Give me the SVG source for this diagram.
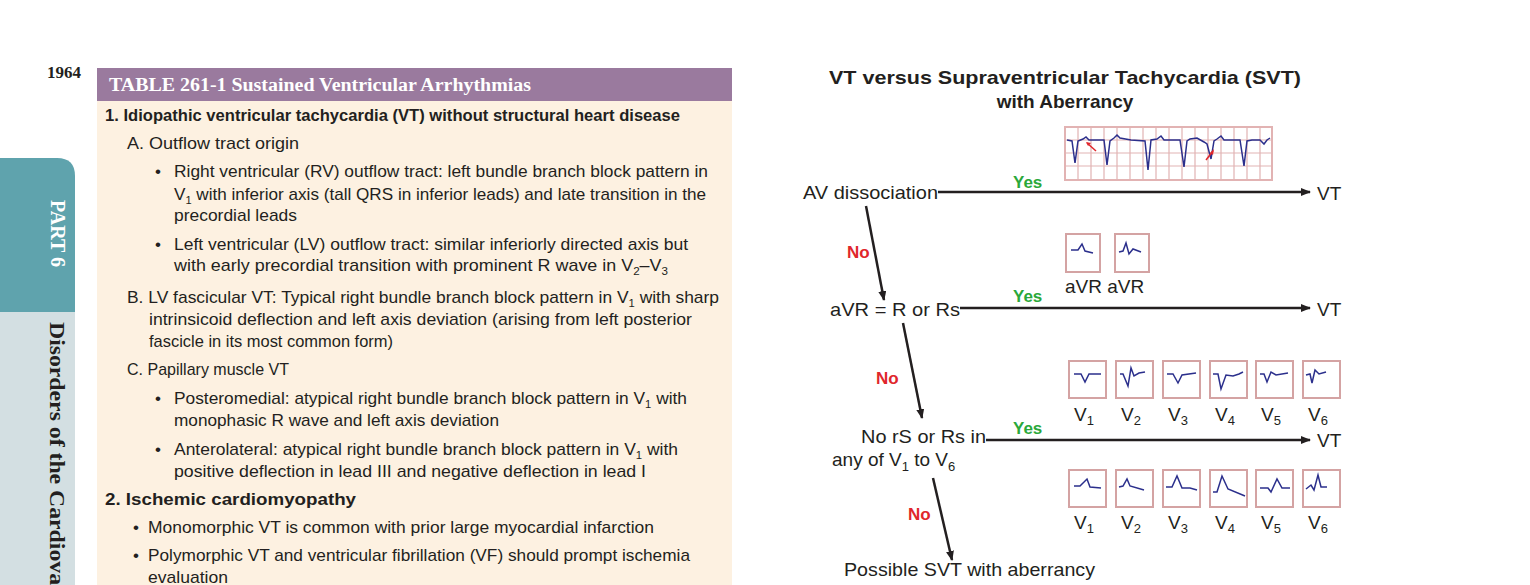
<svg xmlns="http://www.w3.org/2000/svg" width="1530" height="585" viewBox="0 0 1530 585">
<style>
.t{font-family:"Liberation Sans",Arial,sans-serif;font-size:17px;fill:#231f20}
.tb{font-weight:bold}
.d{font-family:"Liberation Sans",Arial,sans-serif;font-size:19px;fill:#231f20}
.y{font-family:"Liberation Sans",Arial,sans-serif;font-size:17px;font-weight:bold;fill:#2aa83a}
.n{font-family:"Liberation Sans",Arial,sans-serif;font-size:17px;font-weight:bold;fill:#e0262b}
.bx{fill:#fff;stroke:#d4a3a3;stroke-width:2}
.tr{fill:none;stroke:#2b2f8c;stroke-width:1.5}
.ln{stroke:#231f20;stroke-width:2.5;fill:none}
.grid{stroke:#e2b3b3;stroke-width:1.2}
</style>
<defs>
<marker id="ah" markerWidth="10" markerHeight="8" refX="9" refY="4" orient="auto" markerUnits="userSpaceOnUse"><path d="M0,0L10,4L0,8Z" fill="#231f20"/></marker>
</defs>
<rect width="1530" height="585" fill="#fff"/>
<g id="sidebar">
<path d="M0,158H57Q75,158 75,176V312H0Z" fill="#5fa3ad"/>
<rect x="0" y="312" width="75" height="273" fill="#d3dfe2"/>
<text x="47" y="78" font-family="Liberation Serif,serif" font-size="17" font-weight="bold" fill="#231f20">1964</text>
<text transform="translate(51,200) rotate(90)" font-family="Liberation Serif,serif" font-size="20" font-weight="bold" fill="#fff">PART 6</text>
<text transform="translate(50,322) rotate(90)" font-family="Liberation Serif,serif" font-size="22" font-weight="bold" fill="#231f20" textLength="263" lengthAdjust="spacingAndGlyphs">Disorders of the Cardiova</text>
</g>
<g id="table">
<rect x="97" y="101" width="635" height="484" fill="#fdf1e1"/>
<rect x="97" y="68" width="635" height="33" fill="#9a7a9e"/>
<text x="109" y="91" font-family="Liberation Serif,serif" font-size="18" font-weight="bold" fill="#fff" textLength="422" lengthAdjust="spacingAndGlyphs">TABLE 261-1  Sustained Ventricular Arrhythmias</text>
<text class="t tb" x="105" y="121" textLength="575" lengthAdjust="spacingAndGlyphs">1.  Idiopathic ventricular tachycardia (VT) without structural heart disease</text>
<text class="t" x="127" y="149" textLength="172" lengthAdjust="spacingAndGlyphs">A.  Outflow tract origin</text>
<text class="t" x="155" y="177">•</text>
<text class="t" x="174" y="177" textLength="534" lengthAdjust="spacingAndGlyphs">Right ventricular (RV) outflow tract: left bundle branch block pattern in</text>
<text class="t" x="174" y="200" textLength="532" lengthAdjust="spacingAndGlyphs">V<tspan font-size="11" dy="4">1</tspan><tspan dy="-4"> with inferior axis (tall QRS in inferior leads) and late transition in the</tspan></text>
<text class="t" x="174" y="221" textLength="123" lengthAdjust="spacingAndGlyphs">precordial leads</text>
<text class="t" x="155" y="250">•</text>
<text class="t" x="174" y="250" textLength="514" lengthAdjust="spacingAndGlyphs">Left ventricular (LV) outflow tract: similar inferiorly directed axis but</text>
<text class="t" x="174" y="271" textLength="494" lengthAdjust="spacingAndGlyphs">with early precordial transition with prominent R wave in V<tspan font-size="11" dy="4">2</tspan><tspan dy="-4">–V</tspan><tspan font-size="11" dy="4">3</tspan></text>
<text class="t" x="127" y="303" textLength="592" lengthAdjust="spacingAndGlyphs">B.  LV fascicular VT: Typical right bundle branch block pattern in V<tspan font-size="11" dy="4">1</tspan><tspan dy="-4"> with sharp</tspan></text>
<text class="t" x="149" y="325" textLength="543" lengthAdjust="spacingAndGlyphs">intrinsicoid deflection and left axis deviation (arising from left posterior</text>
<text class="t" x="149" y="347" textLength="244" lengthAdjust="spacingAndGlyphs">fascicle in its most common form)</text>
<text class="t" x="127" y="375" textLength="162" lengthAdjust="spacingAndGlyphs">C.  Papillary muscle VT</text>
<text class="t" x="155" y="404">•</text>
<text class="t" x="174" y="404" textLength="513" lengthAdjust="spacingAndGlyphs">Posteromedial: atypical right bundle branch block pattern in V<tspan font-size="11" dy="4">1</tspan><tspan dy="-4"> with</tspan></text>
<text class="t" x="174" y="426" textLength="325" lengthAdjust="spacingAndGlyphs">monophasic R wave and left axis deviation</text>
<text class="t" x="155" y="455">•</text>
<text class="t" x="174" y="455" textLength="504" lengthAdjust="spacingAndGlyphs">Anterolateral: atypical right bundle branch block pattern in V<tspan font-size="11" dy="4">1</tspan><tspan dy="-4"> with</tspan></text>
<text class="t" x="174" y="477" textLength="472" lengthAdjust="spacingAndGlyphs">positive deflection in lead III and negative deflection in lead I</text>
<text class="t tb" x="105" y="505" textLength="251" lengthAdjust="spacingAndGlyphs">2.  Ischemic cardiomyopathy</text>
<text class="t" x="133" y="533">•</text>
<text class="t" x="148" y="533" textLength="506" lengthAdjust="spacingAndGlyphs">Monomorphic VT is common with prior large myocardial infarction</text>
<text class="t" x="133" y="561">•</text>
<text class="t" x="148" y="561" textLength="542" lengthAdjust="spacingAndGlyphs">Polymorphic VT and ventricular fibrillation (VF) should prompt ischemia</text>
<text class="t" x="148" y="583" textLength="80" lengthAdjust="spacingAndGlyphs">evaluation</text>
</g>
<g id="title">
<text class="d" x="1065" y="84" font-weight="bold" text-anchor="middle" font-size="20" textLength="472" lengthAdjust="spacingAndGlyphs">VT versus Supraventricular Tachycardia (SVT)</text>
<text class="d" x="1065" y="108" font-weight="bold" text-anchor="middle" font-size="20">with Aberrancy</text>
</g>
<g id="connectors">
<line class="ln" x1="938" y1="192" x2="1310" y2="192" marker-end="url(#ah)"/>
<line class="ln" x1="960" y1="308" x2="1310" y2="308" marker-end="url(#ah)"/>
<line class="ln" x1="986" y1="440" x2="1310" y2="440" marker-end="url(#ah)"/>
<line class="ln" x1="866" y1="206" x2="884" y2="300" marker-end="url(#ah)"/>
<line class="ln" x1="903" y1="323" x2="922" y2="418" marker-end="url(#ah)"/>
<line class="ln" x1="933" y1="478" x2="952" y2="560" marker-end="url(#ah)"/>
<text class="y" x="1013" y="188">Yes</text>
<text class="y" x="1013" y="302">Yes</text>
<text class="y" x="1013" y="434">Yes</text>
<text class="n" x="847" y="258">No</text>
<text class="n" x="876" y="384">No</text>
<text class="n" x="908" y="520">No</text>
</g>
<g id="n-av"><text class="d" x="803" y="199" textLength="135" lengthAdjust="spacingAndGlyphs">AV dissociation</text><text class="d" x="1317" y="200">VT</text></g>
<g id="n-avr"><text class="d" x="830" y="316" textLength="130" lengthAdjust="spacingAndGlyphs">aVR = R or Rs</text><text class="d" x="1317" y="316">VT</text></g>
<g id="n-rs"><text class="d" x="861" y="443" textLength="125" lengthAdjust="spacingAndGlyphs">No rS or Rs in</text><text class="d" x="832" y="466">any of V<tspan font-size="13" dy="5">1</tspan><tspan dy="-5"> to V</tspan><tspan font-size="13" dy="5">6</tspan></text><text class="d" x="1317" y="447">VT</text></g>
<g id="n-svt"><text class="d" x="844" y="576" textLength="251" lengthAdjust="spacingAndGlyphs">Possible SVT with aberrancy</text></g>
<g id="ecg-strip">
<rect x="1065" y="127" width="207" height="53" fill="#fff" stroke="#e2b3b3" stroke-width="2"/>
<path class="grid" d="M1078,127V180M1091,127V180M1104,127V180M1117,127V180M1130,127V180M1143,127V180M1156,127V180M1169,127V180M1182,127V180M1195,127V180M1208,127V180M1221,127V180M1234,127V180M1247,127V180M1260,127V180M1065,140H1272M1065,153H1272M1065,166H1272"/>
<path class="tr" d="M1067,140L1072,141L1075,163L1078,141L1083,139L1086,137L1089,140L1104,140L1107,165L1110,141L1114,138L1117,135L1120,138L1131,140L1145,141L1148,170L1151,140L1157,139L1161,136L1164,140L1180,140L1184,167L1187,141L1190,139L1197,138L1204,142L1207,144L1211,159L1214,141L1217,139L1221,136L1224,140L1240,140L1244,166L1247,141L1252,140L1260,140L1264,144L1267,140L1270,138"/>
<path d="M1096,151L1087,143" stroke="#e0262b" stroke-width="1.5"/><path d="M1086,142L1091,143L1088,146Z" fill="#e0262b"/>
<path d="M1206,160L1213,151" stroke="#e0262b" stroke-width="1.5"/><path d="M1214,149L1213,155L1210,153Z" fill="#e0262b"/>
</g>
<g id="avr-boxes">
<rect class="bx" x="1066" y="234" width="34" height="38"/>
<path class="tr" d="M1071,250L1078,250L1082,244L1085,251L1093,253"/>
<rect class="bx" x="1115" y="234" width="34" height="38"/>
<path class="tr" d="M1119,252L1123,251L1126,243L1129,254L1133,249L1141,252"/>
<text class="d" x="1065" y="293">aVR aVR</text>
</g>
<g id="v-row1">
<rect class="bx" x="1069" y="361" width="37" height="37"/><path class="tr" d="M1074,374L1081,374L1085,382L1089,374L1101,374"/>
<rect class="bx" x="1116" y="361" width="37" height="37"/><path class="tr" d="M1120,374L1123,374L1128,386L1131,368L1134,376L1139,373L1145,372"/>
<rect class="bx" x="1163" y="361" width="37" height="37"/><path class="tr" d="M1167,374L1173,374L1178,383L1182,375L1196,373"/>
<rect class="bx" x="1210" y="361" width="37" height="37"/><path class="tr" d="M1213,374L1218,374L1221,389L1226,375L1233,376L1239,374L1243,372"/>
<rect class="bx" x="1256" y="361" width="37" height="37"/><path class="tr" d="M1260,374L1264,374L1267,382L1271,372L1276,375L1288,373"/>
<rect class="bx" x="1303" y="361" width="37" height="37"/><path class="tr" d="M1306,375L1310,374L1312,383L1315,370L1319,374L1326,372"/>
<text class="d" x="1074" y="421">V<tspan font-size="13" dy="4">1</tspan></text><text class="d" x="1121" y="421">V<tspan font-size="13" dy="4">2</tspan></text><text class="d" x="1168" y="421">V<tspan font-size="13" dy="4">3</tspan></text><text class="d" x="1215" y="421">V<tspan font-size="13" dy="4">4</tspan></text><text class="d" x="1261" y="421">V<tspan font-size="13" dy="4">5</tspan></text><text class="d" x="1308" y="421">V<tspan font-size="13" dy="4">6</tspan></text>
</g>
<g id="v-row2">
<rect class="bx" x="1069" y="470" width="37" height="37"/><path class="tr" d="M1074,486L1080,486L1087,479L1090,487L1101,488"/>
<rect class="bx" x="1116" y="470" width="37" height="37"/><path class="tr" d="M1119,487L1123,486L1127,479L1130,486L1144,490"/>
<rect class="bx" x="1163" y="470" width="37" height="37"/><path class="tr" d="M1166,487L1172,487L1177,476L1182,488L1190,488L1197,490"/>
<rect class="bx" x="1210" y="470" width="37" height="37"/><path class="tr" d="M1213,492L1217,492L1222,476L1228,489L1245,496"/>
<rect class="bx" x="1256" y="470" width="37" height="37"/><path class="tr" d="M1260,488L1268,488L1271,492L1277,479L1282,488L1290,488"/>
<rect class="bx" x="1303" y="470" width="37" height="37"/><path class="tr" d="M1306,489L1311,485L1314,490L1318,475L1321,487L1327,487"/>
<text class="d" x="1074" y="529">V<tspan font-size="13" dy="4">1</tspan></text><text class="d" x="1121" y="529">V<tspan font-size="13" dy="4">2</tspan></text><text class="d" x="1168" y="529">V<tspan font-size="13" dy="4">3</tspan></text><text class="d" x="1215" y="529">V<tspan font-size="13" dy="4">4</tspan></text><text class="d" x="1261" y="529">V<tspan font-size="13" dy="4">5</tspan></text><text class="d" x="1308" y="529">V<tspan font-size="13" dy="4">6</tspan></text>
</g>
</svg>
